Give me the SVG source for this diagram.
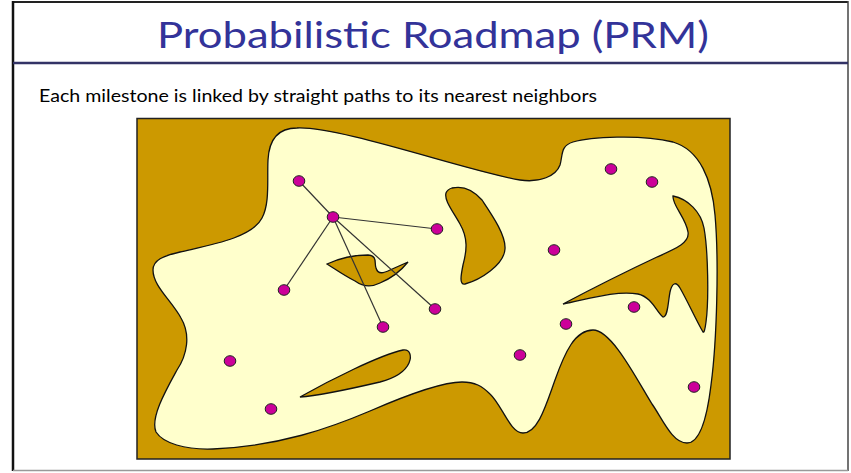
<svg xmlns="http://www.w3.org/2000/svg" width="851" height="473" viewBox="0 0 851 473">
<style>
.title{font-family:Lato,"Open Sans","Liberation Sans",sans-serif;font-size:37px;fill:#333399}
.sub{font-family:Lato,"Open Sans","Liberation Sans",sans-serif;font-size:17.5px;fill:#000}
.obs{fill:#CC9900;stroke:#111;stroke-width:1.3}
.free{fill:#FFFFCC;stroke:#111;stroke-width:1.3}
.ms{fill:#CC0099;stroke:#222;stroke-width:1}
.edge{stroke:#333;stroke-width:1.2;fill:none}
</style>
<rect x="0" y="0" width="851" height="473" fill="#fff"/>
<line x1="13" y1="2" x2="848" y2="2" stroke="#222" stroke-width="2"/>
<line x1="13" y1="1" x2="13" y2="471" stroke="#111" stroke-width="2.5"/>
<line x1="848" y1="1" x2="848" y2="471" stroke="#444" stroke-width="1.5"/>
<line x1="13" y1="470.5" x2="848" y2="470.5" stroke="#999" stroke-width="1.5"/>
<line x1="13" y1="63" x2="848" y2="63" stroke="#333366" stroke-width="2.5"/>
<text class="title" x="433" y="48" text-anchor="middle" textLength="552" lengthAdjust="spacingAndGlyphs">Probabilistic Roadmap (PRM)</text>
<text class="sub" x="39" y="102" textLength="558" lengthAdjust="spacingAndGlyphs">Each milestone is linked by straight paths to its nearest neighbors</text>
<g id="workspace">
<rect x="137" y="118.5" width="593" height="340.5" fill="#CC9900" stroke="#222" stroke-width="1.5"/>
<path id="free-space" class="free" d="M297,128 C340,126 470,172 520,180 C540,183 556,176 560,165 C563,155 560,146 573,142 C590,137 640,134 673,142 C700,150 712,180 715,215 C719,260 717,340 711,385 C707,418 700,443 687,443 C672,443 662,418 652,404 C637,380 612,330 593,330 C575,330 565,352 555,380 C546,405 538,433 523,433 C510,433 502,405 490,394 C482,386 475,382 462,382 C440,382 400,398 370,411 C330,428 280,446 213,449 C185,450 163,443 156,432 C150,418 166,390 177,370 C187,355 191,335 181,318 C171,300 153,286 153,270 C153,260 163,256 180,252 C210,245 252,238 262,218 C270,203 267,180 268,160 C269,140 278,128 297,128 Z"/>
<path id="obstacle-bean" class="obs" d="M452,188 C465,185 475,192 482,200 C492,215 506,235 505,249 C504,265 480,280 465,284 C459,285 461,275 463,265 C467,250 468,238 460,224 C452,210 444,200 446,193 C447,190 449,189 452,188 Z"/>
<path id="obstacle-small" class="obs" d="M327,264 C340,258 355,255 368,255 C378,256 374,263 376,268 C378,275 384,273 390,270 L408,262 C400,272 392,278 380,283 C370,288 362,286 355,281 C345,276 335,269 327,264 Z"/>
<path id="obstacle-bottom" class="obs" d="M300,397 C330,380 380,355 403,350 C410,349 412,356 409,363 C405,372 395,378 380,382 C350,389 315,396 300,397 Z"/>
<path id="obstacle-claw" class="obs" d="M673,196 C688,199 701,212 704,228 C708,250 709,300 706,322 C705,330 704,333 703,332 C697,322 687,300 680,288 C676,281 672,283 670,292 C668,302 668,317 663,317 C657,313 652,297 638,294 C615,290 585,300 563,304 C580,295 625,272 657,257 C675,249 690,243 688,232 C686,218 672,205 673,196 Z"/>
</g>
<g id="connectors">
<line class="edge" x1="333" y1="217" x2="299" y2="181"/>
<line class="edge" x1="333" y1="217" x2="437" y2="229"/>
<line class="edge" x1="333" y1="217" x2="284" y2="290"/>
<line class="edge" x1="333" y1="217" x2="383" y2="327"/>
<line class="edge" x1="333" y1="217" x2="435" y2="309"/>
</g>
<g id="m1"><ellipse class="ms" cx="299" cy="181" rx="5.8" ry="5.3"/></g>
<g id="m2"><ellipse class="ms" cx="333" cy="217" rx="5.8" ry="5.3"/></g>
<g id="m3"><ellipse class="ms" cx="437" cy="229" rx="5.8" ry="5.3"/></g>
<g id="m4"><ellipse class="ms" cx="284" cy="290" rx="5.8" ry="5.3"/></g>
<g id="m5"><ellipse class="ms" cx="383" cy="327" rx="5.8" ry="5.3"/></g>
<g id="m6"><ellipse class="ms" cx="435" cy="309" rx="5.8" ry="5.3"/></g>
<g id="m7"><ellipse class="ms" cx="611" cy="169" rx="5.8" ry="5.3"/></g>
<g id="m8"><ellipse class="ms" cx="652" cy="182" rx="5.8" ry="5.3"/></g>
<g id="m9"><ellipse class="ms" cx="554" cy="250" rx="5.8" ry="5.3"/></g>
<g id="m10"><ellipse class="ms" cx="230" cy="361" rx="5.8" ry="5.3"/></g>
<g id="m11"><ellipse class="ms" cx="271" cy="409" rx="5.8" ry="5.3"/></g>
<g id="m12"><ellipse class="ms" cx="520" cy="355" rx="5.8" ry="5.3"/></g>
<g id="m13"><ellipse class="ms" cx="566" cy="324" rx="5.8" ry="5.3"/></g>
<g id="m14"><ellipse class="ms" cx="634" cy="307" rx="5.8" ry="5.3"/></g>
<g id="m15"><ellipse class="ms" cx="694" cy="387" rx="5.8" ry="5.3"/></g>
</svg>
